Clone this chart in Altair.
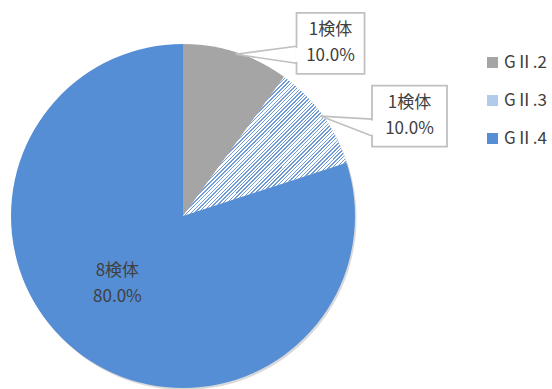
import altair as alt
import pandas as pd

# ---- data ----
categories = ["GⅡ.2", "GⅡ.3", "GⅡ.4"]
counts = [1, 1, 8]
colors = ["#a5a5a5", "#b3cbea", "#558ed5"]

# ---- layout / style ----
CX, CY, R = 183, 216, 172
FONT = "Noto Sans CJK JP"
TEXT_COLOR = "#404040"
BOX_COLOR = "#c0c0c0"
layout = {
    "GⅡ.2": dict(kind="callout", dx=95, dy=-11, w=68, h=61),
    "GⅡ.3": dict(kind="callout", dx=89, dy=0, w=75, h=61),
    "GⅡ.4": dict(kind="inside", dx=-10, dy=-9, w=0, h=0),
}

rows = []
for i, (c, n) in enumerate(zip(categories, counts)):
    L = layout[c]
    rows.append(dict(cat=c, n=n, idx=i, kind=L["kind"], dx=L["dx"], dy=L["dy"],
                     bw=L["w"], bh=L["h"]))
df = pd.DataFrame(rows)

# diagonal hatch as a striped linear gradient
N = 76
stops = []
for k in range(N):
    a = round(k / N, 5)
    b = round((k + 0.6) / N, 5)
    e = round((k + 1) / N, 5)
    stops += [
        {"offset": a, "color": "#ffffff"},
        {"offset": b, "color": "#ffffff"},
        {"offset": b, "color": "#6f9bd8"},
        {"offset": e, "color": "#6f9bd8"},
    ]
hatch = {"gradient": "linear", "x1": 0, "y1": 0, "x2": 1, "y2": 0.85, "stops": stops}

base = (
    alt.Chart(df)
    .transform_joinaggregate(total="sum(n)")
    .transform_window(cum="sum(n)", sort=[alt.SortField("idx")], frame=[None, 0])
    .transform_calculate(a0="(datum.cum - datum.n) / datum.total * 2 * PI")
    .transform_calculate(a1="datum.cum / datum.total * 2 * PI")
    .transform_calculate(am="(datum.a0 + datum.a1) / 2")
    .transform_calculate(tx=f"{CX} + {R - 2} * sin(datum.am)")
    .transform_calculate(ty=f"{CY} - {R - 2} * cos(datum.am)")
    .transform_calculate(bx="datum.tx + datum.dx")
    .transform_calculate(by="datum.ty + datum.dy")
    .transform_calculate(bl="datum.bx - datum.bw / 2")
    .transform_calculate(br="datum.bx + datum.bw / 2")
    .transform_calculate(bt="datum.by - datum.bh / 2")
    .transform_calculate(bb="datum.by + datum.bh / 2")
    .transform_calculate(p1y="datum.by + 3")
    .transform_calculate(p2y="datum.by + 20")
    .transform_calculate(g1="datum.p1y + 1.5")
    .transform_calculate(g2="datum.p2y - 1.5")
    .transform_calculate(
        lx=f"datum.kind == 'callout' ? datum.bx : {CX} + {0.55 * R} * sin(datum.am) + datum.dx"
    )
    .transform_calculate(
        ly=f"datum.kind == 'callout' ? datum.by : {CY} - {0.55 * R} * cos(datum.am) + datum.dy"
    )
    .transform_calculate(
        label="datum.n + '検体\\n' + format(datum.n / datum.total, '.1%')"
    )
)

shadow = base.mark_arc(x=CX + 1.5, y=CY + 2, outerRadius=R, color="#000000", opacity=0.15).encode(
    theta=alt.Theta("a0:Q", scale=None), theta2="a1:Q"
)

arcs = base.mark_arc(x=CX, y=CY, outerRadius=R).encode(
    theta=alt.Theta("a0:Q", scale=None),
    theta2="a1:Q",
    color=alt.condition(
        alt.datum.cat == "GⅡ.3",
        alt.value(hatch),
        alt.Color(
            "cat:N",
            scale=alt.Scale(domain=categories, range=colors),
            legend=alt.Legend(
                title=None,
                orient="none",
                legendX=484,
                legendY=54,
                padding=0,
                symbolType="square",
                symbolSize=121,
                symbolStrokeWidth=0,
                labelFont=FONT,
                labelFontSize=17,
                labelColor=TEXT_COLOR,
                labelOffset=3,
                rowPadding=20,
            ),
        ),
    ),
)

callouts = base.transform_filter("datum.kind == 'callout'")

ptr1 = callouts.mark_rule(color=BOX_COLOR, strokeWidth=1.6).encode(
    x=alt.X("tx:Q", scale=None), y=alt.Y("ty:Q", scale=None), x2="bl:Q", y2="p1y:Q"
)
ptr2 = callouts.mark_rule(color=BOX_COLOR, strokeWidth=1.6).encode(
    x=alt.X("tx:Q", scale=None), y=alt.Y("ty:Q", scale=None), x2="bl:Q", y2="p2y:Q"
)
boxes = callouts.mark_rect(fill="white", stroke=BOX_COLOR, strokeWidth=1.8).encode(
    x=alt.X("bl:Q", scale=None), x2="br:Q", y=alt.Y("bt:Q", scale=None), y2="bb:Q"
)
gap = callouts.mark_rule(color="white", strokeWidth=2.8).encode(
    x=alt.X("bl:Q", scale=None), y=alt.Y("g1:Q", scale=None), y2="g2:Q"
)
texts = base.mark_text(
    font=FONT, fontSize=17, color=TEXT_COLOR, lineBreak="\n", lineHeight=26,
    align="center", baseline="middle", dy=-13,
).encode(x=alt.X("lx:Q", scale=None), y=alt.Y("ly:Q", scale=None), text="label:N")

chart = (
    alt.layer(shadow, arcs, ptr1, ptr2, boxes, gap, texts)
    .properties(width=552, height=389, padding=0, autosize="none", background="white")
    .configure_view(stroke=None)
)

chart.save("out.html", embed_options={"renderer": "svg", "actions": False})
